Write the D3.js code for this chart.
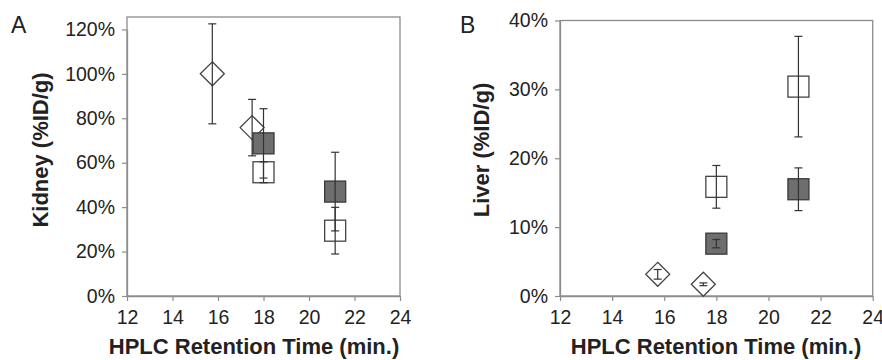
<!DOCTYPE html>
<html>
<head>
<meta charset="utf-8">
<script src="https://cdn.jsdelivr.net/npm/d3@7"></script>
<style>
  body { margin: 0; background: #fff; }
  svg { display: block; }
  text { font-family: "Liberation Sans", Arial, sans-serif; fill: #222; }
</style>
</head>
<body>
<svg id="chart" width="882" height="360"></svg>
<script>
// retention times (min.)
const diamondTime = [15.75, 17.5];
const squareTime = [18, 21.15];

// kidney uptake (%ID/g) and error
const kidneyDiamond = [100, 75.8];
const kidneyDiamondErr = [22.5, 12.7];
const kidneyFilled = [68.7, 47];
const kidneyFilledErr = [15.6, 17.7];
const kidneyOpen = [55.7, 29.4];
const kidneyOpenErr = [4.7, 10.5];

// liver uptake (%ID/g) and error
const liverDiamond = [3.15, 1.7];
const liverDiamondErr = [0.7, 0.2];
const liverFilled = [7.6, 15.5];
const liverFilledErr = [0.6, 3.1];
const liverOpen = [15.85, 30.4];
const liverOpenErr = [3.1, 7.3];

const xTicks = [12, 14, 16, 18, 20, 22, 24];
const kidneyTicks = [0, 20, 40, 60, 80, 100, 120];
const liverTicks = [0, 10, 20, 30, 40];

const svg = d3.select("#chart");

function zip(xs, ys, es) {
  return xs.map((x, i) => ({ x: x, y: ys[i], e: es[i] }));
}

function drawPanel(p) {
  const g = svg.append("g");
  const x = d3.scaleLinear().domain([12, 24]).range([p.left, p.right]);
  const y = d3.scaleLinear().domain([0, p.yMax]).range([p.bottom, p.yMaxPos]);

  // frame
  g.append("rect")
    .attr("x", p.left).attr("y", p.top)
    .attr("width", p.right - p.left).attr("height", p.bottom - p.top)
    .attr("fill", "none").attr("stroke", "#8c8c8c").attr("stroke-width", 1.3);

  const xAxis = g.append("g")
    .attr("transform", "translate(0," + p.bottom + ")")
    .call(d3.axisBottom(x).tickValues(xTicks).tickSize(5).tickSizeOuter(0).tickPadding(9));
  const yAxis = g.append("g")
    .attr("transform", "translate(" + p.left + ",0)")
    .call(d3.axisLeft(y).tickValues(p.yTicks).tickSize(5).tickSizeOuter(0).tickPadding(7)
      .tickFormat(d => d + "%"));
  [xAxis, yAxis].forEach(a => {
    a.select(".domain").attr("stroke", "#8c8c8c").attr("stroke-width", 1.3);
    a.selectAll(".tick line").attr("stroke", "#8c8c8c").attr("stroke-width", 1.2);
    a.selectAll(".tick text").attr("font-size", 19.5).style("font-family", "Liberation Sans, Arial, sans-serif").attr("fill", "#222");
  });

  const diamonds = zip(diamondTime, p.diamond, p.diamondErr);
  const open = zip(squareTime, p.open, p.openErr);
  const filled = zip(squareTime, p.filled, p.filledErr);

  const d = 12, s = 10.5;
  g.selectAll(".dia").data(diamonds).enter().append("path")
    .attr("d", v => `M${x(v.x)},${y(v.y) - d}L${x(v.x) + d},${y(v.y)}L${x(v.x)},${y(v.y) + d}L${x(v.x) - d},${y(v.y)}Z`)
    .attr("fill", "#fff").attr("stroke", "#444").attr("stroke-width", 1.3);
  g.selectAll(".open").data(open).enter().append("rect")
    .attr("x", v => x(v.x) - s).attr("y", v => y(v.y) - s)
    .attr("width", 2 * s).attr("height", 2 * s)
    .attr("fill", "#fff").attr("stroke", "#444").attr("stroke-width", 1.3);
  g.selectAll(".filled").data(filled).enter().append("rect")
    .attr("x", v => x(v.x) - s).attr("y", v => y(v.y) - s)
    .attr("width", 2 * s).attr("height", 2 * s)
    .attr("fill", "#6e6e6e").attr("stroke", "#3a3a3a").attr("stroke-width", 1.3);

  // error bars on top of the markers
  const all = diamonds.concat(open, filled);
  const cap = 4;
  const eb = g.selectAll(".err").data(all).enter().append("g").attr("stroke", "#333").attr("stroke-width", 1.2);
  eb.append("line")
    .attr("x1", v => x(v.x)).attr("x2", v => x(v.x))
    .attr("y1", v => y(v.y + v.e)).attr("y2", v => y(v.y - v.e));
  eb.append("line")
    .attr("x1", v => x(v.x) - cap).attr("x2", v => x(v.x) + cap)
    .attr("y1", v => y(v.y + v.e)).attr("y2", v => y(v.y + v.e));
  eb.append("line")
    .attr("x1", v => x(v.x) - cap).attr("x2", v => x(v.x) + cap)
    .attr("y1", v => y(v.y - v.e)).attr("y2", v => y(v.y - v.e));

  // titles
  g.append("text")
    .attr("x", p.xTitleX).attr("y", 354)
    .attr("text-anchor", "middle").attr("font-size", 22).attr("font-weight", "bold")
    .text("HPLC Retention Time (min.)");
  g.append("text")
    .attr("transform", "translate(" + p.yTitleX + ",150) rotate(-90)")
    .attr("text-anchor", "middle").attr("font-size", 22).attr("font-weight", "bold")
    .text(p.yTitle);
  g.append("text")
    .attr("x", p.letterX).attr("y", 33)
    .attr("font-size", 23)
    .text(p.letter);
}

drawPanel({
  left: 127, right: 400, top: 17, bottom: 296, yMax: 120, yMaxPos: 29.4,
  yTicks: kidneyTicks, diamond: kidneyDiamond, diamondErr: kidneyDiamondErr,
  open: kidneyOpen, openErr: kidneyOpenErr, filled: kidneyFilled, filledErr: kidneyFilledErr,
  xTitleX: 254, yTitleX: 48, yTitle: "Kidney (%ID/g)", letter: "A", letterX: 11
});

drawPanel({
  left: 560, right: 872.7, top: 20.5, bottom: 296, yMax: 40, yMaxPos: 20.5,
  yTicks: liverTicks, diamond: liverDiamond, diamondErr: liverDiamondErr,
  open: liverOpen, openErr: liverOpenErr, filled: liverFilled, filledErr: liverFilledErr,
  xTitleX: 716, yTitleX: 489, yTitle: "Liver (%ID/g)", letter: "B", letterX: 460
});
</script>
</body>
</html>
